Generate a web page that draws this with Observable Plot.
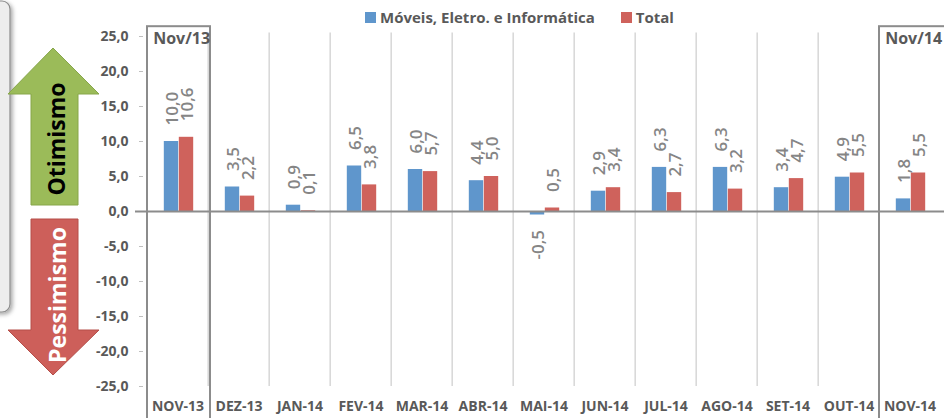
<!DOCTYPE html>
<html><head><meta charset="utf-8">
<script src="https://cdn.jsdelivr.net/npm/d3@7"></script>
<script src="https://cdn.jsdelivr.net/npm/@observablehq/plot@0.6"></script>
<style>
body{margin:0;background:#fff;font-family:"Open Sans",sans-serif;}
#wrap{position:relative;width:944px;height:418px;overflow:hidden;}
#legend{position:absolute;top:7px;left:365px;display:flex;align-items:center;font-weight:700;font-size:15px;color:#595959;white-space:nowrap;}
#legend .it{display:flex;align-items:center;}
.sw{display:inline-block;width:11px;height:11px;margin-right:4px;}
#deco{position:absolute;left:0;top:0;}
</style></head><body><div id="wrap"></div>
<script>
const months = ["NOV-13","DEZ-13","JAN-14","FEV-14","MAR-14","ABR-14","MAI-14","JUN-14","JUL-14","AGO-14","SET-14","OUT-14","NOV-14"];
const moveis = [10.0,3.5,0.9,6.5,6.0,4.4,-0.5,2.9,6.3,6.3,3.4,4.9,1.8];
const total  = [10.6,2.2,0.1,3.8,5.7,5.0,0.5,3.4,2.7,3.2,4.7,5.5,5.5];
const seriesNames = ["Móveis, Eletro. e Informática","Total"];
const seriesColors = ["#5f96cc","#cf625c"];
const yTicks = [-25,-20,-15,-10,-5,0,5,10,15,20,25];
const boxMonths = ["NOV-13","NOV-14"];
const boxLabels = ["Nov/13","Nov/14"];

const fmt = v => d3.format(".1f")(v).replace(".", ",").replace("−", "-");

const W = 944, H = 418, ML = 143, MR = 0, MT = 36, MB = 32;
const bw = (W - ML - MR) / months.length;

const rowsA = months.map((m, i) => ({month: m, value: moveis[i]}));
const rowsB = months.map((m, i) => ({month: m, value: total[i]}));

function labels(rows, sx) {
  const common = {x: "month", y: "value", text: d => fmt(d.value), rotate: -90,
    fill: "#858585", fontSize: 17, fontWeight: 600, dx: sx};
  return [
    Plot.text(rows.filter(d => d.value >= 0), {...common, dy: -16, textAnchor: "start"}),
    Plot.text(rows.filter(d => d.value < 0), {...common, dy: 15, textAnchor: "end"})
  ];
}

const chart = Plot.plot({
  width: W, height: H,
  marginLeft: ML, marginRight: MR, marginTop: MT, marginBottom: MB,
  style: {fontFamily: "Open Sans, sans-serif", background: "transparent", overflow: "visible"},
  x: {domain: months, padding: 0, label: null},
  y: {domain: [-25, 25], label: null},
  marks: [
    Plot.ruleX(months.slice(1), {x: d => d, dx: -bw / 2, y1: () => -25, y2: () => 25.5, stroke: "#d9d9d9", strokeWidth: 1.6}),
    Plot.axisY({ticks: yTicks, tickFormat: fmt, tickSize: 4, tickPadding: 11, stroke: "#bfbfbf", fill: "#595959", fontSize: 14, fontWeight: 700, label: null}),
    Plot.axisX({tickSize: 0, tickPadding: 15, fill: "#595959", fontSize: 14, fontWeight: 700, label: null}),
    Plot.barY(rowsA, {x: "month", y: "value", fill: seriesColors[0], insetLeft: bw / 2 - 14, insetRight: bw / 2 - 1}),
    Plot.barY(rowsB, {x: "month", y: "value", fill: seriesColors[1], insetLeft: bw / 2 + 1, insetRight: bw / 2 - 16}),
    Plot.ruleY([0], {stroke: "#8c8c8c", strokeWidth: 2, insetLeft: -8}),
    ...labels(rowsA, -5),
    ...labels(rowsB, 10),
    Plot.barY(boxMonths.slice(0, 1), {x: d => d, y1: () => 26.4, y2: () => -35, fill: "none", stroke: "#8c8c8c", strokeWidth: 2, insetRight: -2}),
    Plot.barY(boxMonths.slice(1), {x: d => d, y1: () => 26.4, y2: () => -35, fill: "none", stroke: "#8c8c8c", strokeWidth: 2, insetRight: -20}),
    Plot.text(boxMonths, {x: d => d, y: () => 24.6, text: (d, i) => boxLabels[i], dx: -bw / 2 + 6, textAnchor: "start", fill: "#595959", fontSize: 16, fontWeight: 700})
  ]
});

const wrap = document.getElementById("wrap");
wrap.appendChild(chart);

// legend
const lg = document.createElement("div");
lg.id = "legend";
seriesNames.forEach((n, i) => {
  const it = document.createElement("span");
  it.className = "it";
  if (i > 0) it.style.marginLeft = "26px";
  it.innerHTML = `<span class="sw" style="background:${seriesColors[i]}"></span>${n}`;
  lg.appendChild(it);
});
wrap.appendChild(lg);

// left decoration: box with optimism / pessimism arrows
const deco = d3.select(wrap).append("svg").attr("id", "deco").attr("width", 140).attr("height", H);
const defs = deco.append("defs");
const f = defs.append("filter").attr("id", "sh").attr("x", "-50%").attr("y", "-50%").attr("width", "200%").attr("height", "200%");
f.append("feDropShadow").attr("dx", 2).attr("dy", 2).attr("stdDeviation", 2).attr("flood-color", "#000").attr("flood-opacity", 0.35);
deco.append("rect").attr("x", -20).attr("y", 1).attr("width", 30).attr("height", 311).attr("rx", 8)
  .attr("fill", "#ededed").attr("stroke", "#8c8c8c").attr("stroke-width", 1.2).attr("filter", "url(#sh)");
deco.append("path").attr("d", "M53,48 L99,94 L78,94 L78,205 L31,205 L31,94 L8,94 Z")
  .attr("fill", "#9bbb59").attr("stroke", "#87a64b").attr("stroke-width", 1);
deco.append("path").attr("d", "M31,219 L78,219 L78,330 L99,330 L53,375 L8,330 L31,330 Z")
  .attr("fill", "#cd5f5a").attr("stroke", "#b54e49").attr("stroke-width", 1);
deco.append("text").attr("transform", "translate(56,139) rotate(-90)").attr("text-anchor", "middle")
  .attr("dominant-baseline", "central").attr("font-family", "Open Sans, sans-serif").attr("font-weight", 700)
  .attr("font-size", 23).attr("fill", "#000").text("Otimismo");
deco.append("text").attr("transform", "translate(57,295) rotate(-90)").attr("text-anchor", "middle")
  .attr("dominant-baseline", "central").attr("font-family", "Open Sans, sans-serif").attr("font-weight", 700)
  .attr("font-size", 23).attr("fill", "#fff").text("Pessimismo");
</script></body></html>
